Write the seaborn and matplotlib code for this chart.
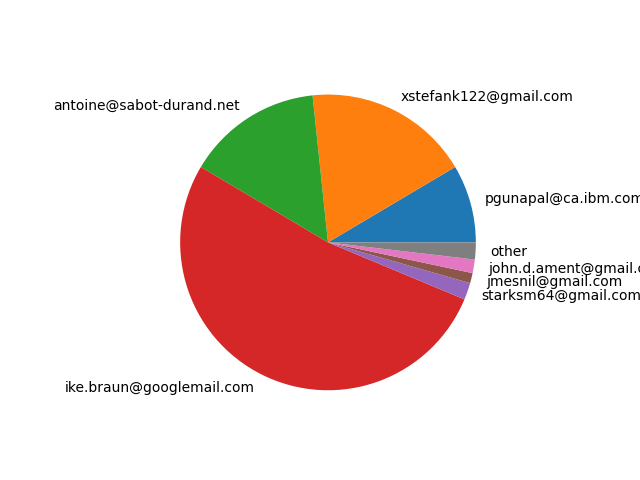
import matplotlib
matplotlib.use("Agg")
import matplotlib.pyplot as plt
import seaborn as sns

# Data
authors = [
    'pgunapal@ca.ibm.com',
    'xstefank122@gmail.com',
    'antoine@sabot-durand.net',
    'ike.braun@googlemail.com',
    'starksm64@gmail.com',
    'jmesnil@gmail.com',
    'john.d.ament@gmail.com',
    'other',
]
commits = [23, 49, 40, 141, 5, 3, 4, 5]

colors = sns.color_palette('tab10', 8)

fig, ax = plt.subplots(figsize=(6.4, 4.8), dpi=100)
ax.pie(commits, labels=authors, colors=colors)

plt.savefig('out.png')
